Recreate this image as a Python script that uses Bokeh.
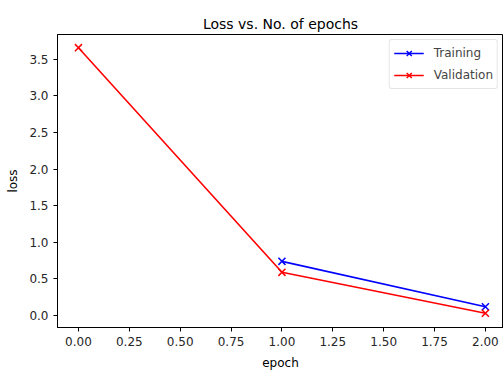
from bokeh.plotting import figure
from bokeh.models import Range1d, FixedTicker, NumeralTickFormatter
from bokeh.embed import file_html
from bokeh.resources import INLINE

epochs = [0, 1, 2]
train_loss = [float("nan"), 0.74, 0.12]
val_loss = [3.66, 0.59, 0.03]
x_ticks = [0.0, 0.25, 0.5, 0.75, 1.0, 1.25, 1.5, 1.75, 2.0]
y_ticks = [0.0, 0.5, 1.0, 1.5, 2.0, 2.5, 3.0, 3.5]

FONT = "DejaVu Sans"

p = figure(width=503, height=372, output_backend="svg", toolbar_location=None,
           x_range=Range1d(-0.103, 2.089), y_range=Range1d(-0.164, 3.84),
           min_border_left=57, min_border_right=0, min_border_bottom=45, min_border_top=34,
           title="Loss vs. No. of epochs")
p.title.align = "center"
p.title.text_font = FONT
p.title.text_font_size = "14px"
p.title.text_font_style = "normal"
p.title.text_color = "#000000"
p.title.standoff = 6

p.xgrid.visible = False
p.ygrid.visible = False
p.outline_line_color = "black"
p.outline_line_width = 1
p.background_fill_color = "white"
p.border_fill_color = "white"

for ax in (p.xaxis[0], p.yaxis[0]):
    ax.major_tick_in = 0
    ax.major_tick_out = 4
    ax.minor_tick_in = 0
    ax.minor_tick_out = 0
    ax.axis_line_color = "black"
    ax.major_tick_line_color = "black"
    ax.major_label_text_font = FONT
    ax.major_label_text_font_size = "12px"
    ax.major_label_text_color = "#262626"
    ax.axis_label_text_font = FONT
    ax.axis_label_text_font_size = "12px"
    ax.axis_label_text_font_style = "normal"
    ax.axis_label_text_color = "#000000"

p.xaxis.ticker = FixedTicker(ticks=x_ticks)
p.xaxis.formatter = NumeralTickFormatter(format="0.00")
p.yaxis.ticker = FixedTicker(ticks=y_ticks)
p.yaxis.formatter = NumeralTickFormatter(format="0.0")
p.xaxis.axis_label = "epoch"
p.yaxis.axis_label = "loss"
p.xaxis.major_label_standoff = 5
p.yaxis.major_label_standoff = 5
p.xaxis.axis_label_standoff = 7
p.yaxis.axis_label_standoff = 6

p.line(epochs, train_loss, line_color="blue", line_width=1.6, legend_label="Training")
p.scatter(epochs, train_loss, marker="x", size=10, line_color="blue", line_width=1.5, legend_label="Training")
p.line(epochs, val_loss, line_color="red", line_width=1.6, legend_label="Validation")
p.scatter(epochs, val_loss, marker="x", size=10, line_color="red", line_width=1.5, legend_label="Validation")

lg = p.legend[0]
lg.location = "top_right"
lg.margin = 5
lg.padding = 4
lg.spacing = 4
lg.label_height = 18
lg.glyph_height = 18
lg.glyph_width = 30
lg.label_text_font = FONT
lg.label_text_font_size = "12px"
lg.label_standoff = 10
lg.border_line_color = "#cccccc"
lg.border_line_width = 1
lg.border_radius = 3
lg.background_fill_alpha = 0.8

open("out.html", "w").write(file_html(p, INLINE))
